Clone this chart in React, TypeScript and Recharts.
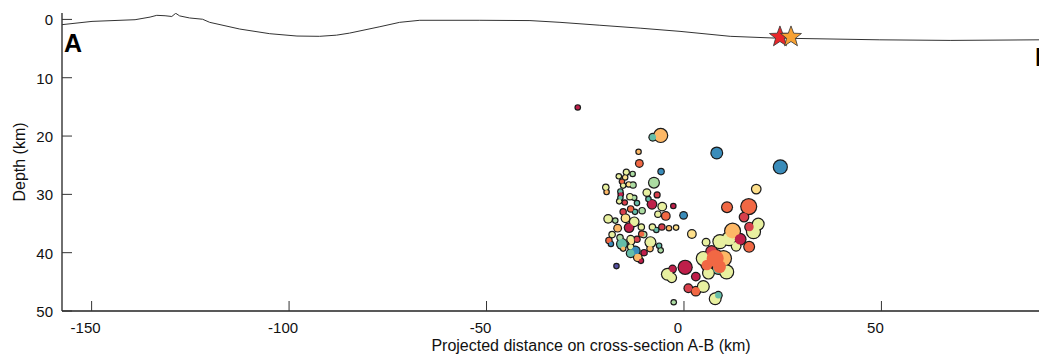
import { ScatterChart, Scatter, XAxis, YAxis, Label, Customized } from "recharts";

// hypocentres projected on profile A-B
const distKm = [
  -26.9, -5.9, -7.9, -11.5, -11.3, -5.8, -14.6, -13.0, -16.5, -14.9, -15.7, -7.6, -15.4, -14.0, -12.9,
  -19.8, -19.6, -9.4, -6.8, -16.1, -16.0, -13.7, -12.6, -16.1, -16.4, -9.0, -15.0, -11.9, -8.1, -5.5,
  -4.6, -19.2, -17.4, -14.8, -15.4, -13.5, -12.4, -10.6, -6.6, -12.6, -13.9, -16.8, -10.8, -10.2, -8.0,
  -7.0, -5.6, -3.8, -2.0, -18.2, -19.0, -18.5, -16.2, -15.7, -13.5, -13.3, -10.7, -11.9, -8.5, -8.6,
  -10.1, -6.3, -5.9, -13.5, -12.3, -13.5, -11.7, -10.9, -15.4, -17.1, -4.2, -2.9, -2.6,
  8.3, 24.4, 18.3, -2.7, -0.1, 2.0,
  11.4, 17.6, 18.8, 9.1, 5.6, 13.2, 4.9, 10.8, 6.2, -3.1, 4.9, 7.9,
  8.7, 8.4, 8.7,
  10.9, 16.4, 15.2, 16.6, 12.3, 16.5, 14.2,
  5.8, 7.4, 7.0, 10.0, 9.0, 7.9, 0.3, 3.0, 3.0, 1.1,
];
const depthKm = [
  15.1, 19.9, 20.2, 22.7, 24.7, 26.1, 26.2, 26.5, 26.9, 27.1, 27.8, 28.0, 28.5, 28.3, 28.4,
  28.8, 29.6, 29.7, 30.1, 29.5, 30.0, 30.4, 30.6, 30.6, 31.2, 30.8, 31.4, 31.5, 31.7, 32.1,
  33.7, 34.2, 34.5, 34.1, 33.0, 32.5, 33.0, 32.8, 33.4, 34.7, 35.7, 35.8, 35.6, 36.9, 35.6,
  36.1, 35.6, 35.8, 35.7, 36.9, 37.9, 38.5, 37.4, 38.5, 37.7, 38.1, 36.8, 37.7, 38.2, 39.3,
  40.0, 38.8, 39.6, 39.0, 39.7, 40.1, 40.8, 41.4, 39.3, 42.3, 43.7, 42.8, 48.5,
  22.9, 25.3, 29.1, 32.0, 33.6, 36.8,
  37.6, 36.4, 35.1, 38.1, 38.2, 38.9, 41.0, 43.3, 43.5, 44.3, 45.8, 47.9,
  42.7, 41.6, 47.3,
  32.2, 32.1, 33.9, 35.6, 36.3, 39.0, 37.7,
  42.1, 40.3, 39.8, 41.0, 42.4, 41.0, 42.5, 44.1, 46.6, 46.1,
];
const magnitude = [
  1.0, 3.7, 1.7, 1.0, 1.7, 1.3, 1.2, 1.0, 1.0, 1.0, 1.0, 2.7, 1.0, 1.0, 1.3,
  1.3, 1.0, 1.7, 1.2, 1.0, 1.0, 1.3, 1.0, 1.0, 1.0, 1.0, 1.0, 1.0, 2.3, 2.0,
  2.0, 2.0, 1.0, 2.0, 1.3, 1.3, 1.0, 1.3, 1.3, 2.3, 2.3, 1.7, 1.3, 1.3, 1.3,
  1.0, 1.3, 1.0, 1.0, 1.3, 1.3, 1.0, 1.3, 2.7, 1.7, 1.3, 1.3, 1.3, 2.7, 1.3,
  1.3, 1.0, 1.0, 1.3, 2.3, 2.0, 2.0, 1.0, 1.0, 1.0, 3.0, 1.7, 1.0,
  3.0, 3.7, 2.3, 1.0, 1.7, 2.0,
  3.7, 3.7, 3.0, 3.7, 1.7, 2.3, 3.7, 3.7, 3.0, 2.3, 3.0, 3.0,
  3.0, 2.3, 1.7,
  2.7, 4.3, 2.3, 2.3, 4.3, 2.7, 3.0,
  3.0, 3.0, 3.0, 4.3, 3.7, 5.0, 3.7, 2.0, 2.3, 2.0,
];
// colour class (time bin, 0 = oldest)
const timeBin = [
  0, 3, 7, 3, 2, 8, 5, 6, 5, 4, 2, 6, 5, 4, 6,
  5, 3, 5, 1, 7, 0, 5, 6, 7, 5, 7, 1, 7, 0, 5,
  2, 5, 6, 4, 1, 2, 7, 6, 5, 5, 0, 3, 5, 6, 5,
  7, 1, 3, 4, 5, 2, 8, 6, 7, 5, 4, 2, 1, 5, 3,
  0, 7, 6, 5, 8, 7, 3, 0, 3, 9, 5, 0, 6,
  8, 8, 4, 0, 8, 4,
  5, 5, 5, 5, 5, 5, 5, 5, 5, 5, 5, 5,
  7, 8, 7,
  2, 2, 1, 1, 3, 2, 0,
  2, 1, 1, 3, 2, 2, 0, 0, 2, 1,
];

// topography / bathymetry along the profile
const topoDist = [
  -157.5, -149.9, -139.0, -135.2, -133.5, -131.4, -129.7, -128.7, -127.7, -125.2, -121.9, -120.1,
  -112.5, -104.9, -98.0, -92.3, -88.0, -84.7, -77.0, -72.0, -66.9, -51.7, -39.0, -31.4, -21.3,
  -11.1, -1.0, 11.7, 23.0, 49.6, 67.4, 89.9,
];
const topoDepth = [
  0.9, 0.34, 0.05, -0.4, -0.7, -0.63, -0.5, -1.05, -0.6, -0.25, -0.03, 0.5,
  1.65, 2.45, 2.85, 2.9, 2.7, 2.35, 1.25, 0.5, 0.15, 0.15, 0.2, 0.5, 1.0,
  1.5, 2.05, 2.9, 3.2, 3.5, 3.6, 3.5,
];

// mainshocks
const mainDist = [24.3, 27.1];
const mainDepth = [3.0, 3.0];
const mainColor = ["#e8262a", "#f7a133"];

const xTicks = [-150, -100, -50, 0, 50];
const yTicks = [0, 10, 20, 30, 40, 50];

const PALETTE = [
  "#bf1f4a", "#d8404c", "#f16844", "#fdb866", "#fee08b",
  "#e8f0a0", "#abdba2", "#64bda8", "#3a8cba", "#5550a0",
];

const FONT = "'Liberation Sans', Arial, Helvetica, sans-serif";

const quakes = distKm.map((x, i) => ({ x, y: depthKm[i], mag: magnitude[i], bin: timeBin[i] }));
const topo = topoDist.map((x, i) => ({ x, y: topoDepth[i] }));
const mains = mainDist.map((x, i) => ({ x, y: mainDepth[i], color: mainColor[i] }));

const radius = (m: number) => 0.5 + 1.6 * m;

const Outline = (p: any) => (
  <circle cx={p.cx} cy={p.cy} r={radius(p.payload.mag) + 1.2} fill="#1a1a1a" />
);
const Fill = (p: any) => (
  <circle cx={p.cx} cy={p.cy} r={radius(p.payload.mag)} fill={PALETTE[p.payload.bin]} />
);
const Nothing = () => <g />;

const Star = (p: any) => {
  const R = 11;
  const r = 4.6;
  const pts: string[] = [];
  for (let k = 0; k < 10; k++) {
    const a = -Math.PI / 2 + (k * Math.PI) / 5;
    const rr = k % 2 === 0 ? R : r;
    pts.push(`${p.cx + rr * Math.cos(a)},${p.cy + rr * Math.sin(a)}`);
  }
  return <polygon points={pts.join(" ")} fill={p.payload.color} stroke="#333" strokeWidth={0.8} />;
};

const BottomTick = (p: any) => (
  <g>
    <line x1={p.x} x2={p.x} y1={p.y} y2={p.y - 10} stroke="#333" strokeWidth={1} />
    <text x={p.x - 6} y={p.y + 22} textAnchor="middle" fontSize={15} fontFamily={FONT} fill="#111">
      {p.payload.value}
    </text>
  </g>
);
const TopTick = (p: any) => (
  <line x1={p.x} x2={p.x} y1={p.y} y2={p.y + 9} stroke="#333" strokeWidth={1} />
);
const LeftTick = (p: any) => (
  <g>
    <line x1={p.x} x2={p.x + 10} y1={p.y} y2={p.y} stroke="#333" strokeWidth={1} />
    <text x={p.x - 9} y={p.y + 6} textAnchor="end" fontSize={15} fontFamily={FONT} fill="#111">
      {p.payload.value}
    </text>
  </g>
);

const Letters = () => (
  <g fontFamily={FONT} fontWeight="bold" fontSize={25} fill="#000">
    <text x={64} y={52}>A</text>
    <text x={1035} y={66}>B</text>
  </g>
);

export default function App() {
  return (
    <div style={{ position: "absolute", left: 0, top: 0, width: 1039, height: 355, background: "#fff" }}>
      <ScatterChart width={1039} height={355} margin={{ top: 13, right: 0, bottom: 0, left: 0 }}>
        <XAxis
          xAxisId="b"
          type="number"
          dataKey="x"
          domain={[-157.5, 89.9]}
          ticks={xTicks}
          allowDataOverflow
          height={44}
          tickSize={0}
          tickMargin={0}
          tickLine={false}
          tick={BottomTick}
          axisLine={{ stroke: "#222", strokeWidth: 1.3 }}
        >
          <Label
            content={() => (
              <text x={591} y={351} textAnchor="middle" fontSize={16} fontFamily={FONT} fill="#111">
                Projected distance on cross-section A-B (km)
              </text>
            )}
          />
        </XAxis>
        <XAxis
          xAxisId="t"
          orientation="top"
          type="number"
          dataKey="x"
          domain={[-157.5, 89.9]}
          ticks={xTicks}
          allowDataOverflow
          height={0}
          tickSize={0}
          tickMargin={0}
          tickLine={false}
          tick={TopTick}
          axisLine={{ stroke: "#222", strokeWidth: 1.3 }}
        />
        <YAxis
          type="number"
          dataKey="y"
          domain={[-1.1, 50]}
          reversed
          ticks={yTicks}
          allowDataOverflow
          width={62}
          tickSize={0}
          tickMargin={0}
          tickLine={false}
          tick={LeftTick}
          axisLine={{ stroke: "#222", strokeWidth: 1.3 }}
        >
          <Label
            content={() => (
              <text
                transform="translate(25,162) rotate(-90)"
                textAnchor="middle"
                fontSize={16}
                fontFamily={FONT}
                fill="#111"
              >
                Depth (km)
              </text>
            )}
          />
        </YAxis>
        <Scatter
          xAxisId="b"
          data={topo}
          line={{ stroke: "#333", strokeWidth: 1 }}
          lineType="joint"
          shape={Nothing}
          isAnimationActive={false}
        />
        <Scatter xAxisId="b" data={quakes} shape={Outline} isAnimationActive={false} />
        <Scatter xAxisId="b" data={quakes} shape={Fill} isAnimationActive={false} />
        <Scatter xAxisId="b" data={mains} shape={Star} isAnimationActive={false} />
        <Customized component={Letters} />
      </ScatterChart>
    </div>
  );
}
